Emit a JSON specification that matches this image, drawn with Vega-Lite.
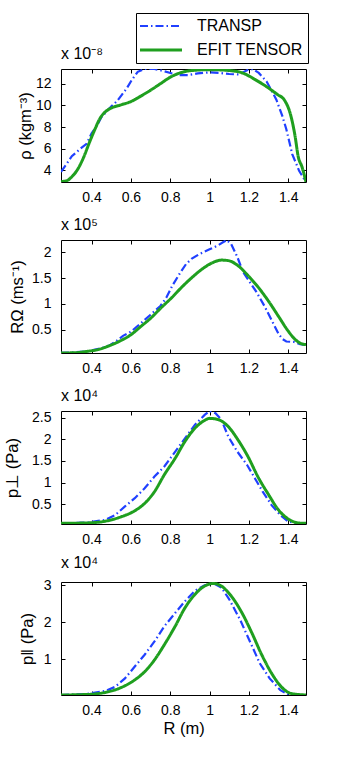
{
  "$schema": "https://vega.github.io/schema/vega-lite/v6.json",
  "bounds": "flush",
  "spacing": 58,
  "padding": {"left": 3, "top": 12, "right": 0, "bottom": 0},
  "background": "white",
  "config": {
    "font": "Liberation Sans",
    "view": {"stroke": "black", "strokeWidth": 1},
    "axis": {"grid": false, "domain": false, "tickColor": "black", "tickSize": -4, "labelFont": "Liberation Sans", "labelFontSize": 14, "labelColor": "black", "titleFont": "Liberation Sans", "titleFontSize": 16.5, "titleFontWeight": "normal", "titleColor": "black", "labelOverlap": false, "labelFlush": false},
    "axisX": {"labelPadding": 12, "titlePadding": 3},
    "axisY": {"labelPadding": 14},
    "title": {"anchor": "start", "frame": "group", "font": "Liberation Sans", "fontSize": 16, "fontWeight": "normal", "color": "black", "baseline": "alphabetic", "offset": 7},
    "legend": {"orient": "none", "legendX": 75, "legendY": -56, "strokeColor": "black", "fillColor": "white", "padding": 5, "labelFont": "Liberation Sans", "labelFontSize": 16, "labelColor": "black", "symbolType": "M-3,0H3", "symbolSize": 196, "symbolOffset": 12, "labelOffset": 28, "rowPadding": 8, "symbolStrokeWidth": 2.5}
  },
  "datasets": {
    "rho": [
      {"s": "TRANSP", "r": 0.245, "v": 3.85}, {"s": "TRANSP", "r": 0.27, "v": 4.5}, {"s": "TRANSP", "r": 0.30, "v": 5.3}, {"s": "TRANSP", "r": 0.35, "v": 6.1}, {"s": "TRANSP", "r": 0.375, "v": 6.45}, {"s": "TRANSP", "r": 0.40, "v": 7.4}, {"s": "TRANSP", "r": 0.43, "v": 8.2}, {"s": "TRANSP", "r": 0.45, "v": 8.9}, {"s": "TRANSP", "r": 0.50, "v": 9.9}, {"s": "TRANSP", "r": 0.53, "v": 10.4}, {"s": "TRANSP", "r": 0.555, "v": 11.0}, {"s": "TRANSP", "r": 0.58, "v": 11.6}, {"s": "TRANSP", "r": 0.605, "v": 12.35}, {"s": "TRANSP", "r": 0.635, "v": 13.1}, {"s": "TRANSP", "r": 0.67, "v": 13.36}, {"s": "TRANSP", "r": 0.72, "v": 13.36}, {"s": "TRANSP", "r": 0.76, "v": 13.2}, {"s": "TRANSP", "r": 0.81, "v": 12.95}, {"s": "TRANSP", "r": 0.85, "v": 12.8}, {"s": "TRANSP", "r": 0.89, "v": 12.8}, {"s": "TRANSP", "r": 0.94, "v": 12.95}, {"s": "TRANSP", "r": 1.0, "v": 13.05}, {"s": "TRANSP", "r": 1.05, "v": 13.0}, {"s": "TRANSP", "r": 1.10, "v": 12.9}, {"s": "TRANSP", "r": 1.15, "v": 12.85}, {"s": "TRANSP", "r": 1.19, "v": 13.25}, {"s": "TRANSP", "r": 1.22, "v": 13.36}, {"s": "TRANSP", "r": 1.25, "v": 13.0}, {"s": "TRANSP", "r": 1.29, "v": 12.2}, {"s": "TRANSP", "r": 1.32, "v": 11.2}, {"s": "TRANSP", "r": 1.34, "v": 10.5}, {"s": "TRANSP", "r": 1.37, "v": 9.0}, {"s": "TRANSP", "r": 1.39, "v": 7.8}, {"s": "TRANSP", "r": 1.42, "v": 5.5}, {"s": "TRANSP", "r": 1.455, "v": 3.95}, {"s": "TRANSP", "r": 1.49, "v": 2.92},
      {"s": "EFIT TENSOR", "r": 0.245, "v": 2.95}, {"s": "EFIT TENSOR", "r": 0.275, "v": 3.05}, {"s": "EFIT TENSOR", "r": 0.30, "v": 3.4}, {"s": "EFIT TENSOR", "r": 0.33, "v": 4.1}, {"s": "EFIT TENSOR", "r": 0.36, "v": 5.2}, {"s": "EFIT TENSOR", "r": 0.39, "v": 6.6}, {"s": "EFIT TENSOR", "r": 0.42, "v": 7.9}, {"s": "EFIT TENSOR", "r": 0.44, "v": 8.7}, {"s": "EFIT TENSOR", "r": 0.47, "v": 9.4}, {"s": "EFIT TENSOR", "r": 0.50, "v": 9.75}, {"s": "EFIT TENSOR", "r": 0.55, "v": 10.05}, {"s": "EFIT TENSOR", "r": 0.60, "v": 10.35}, {"s": "EFIT TENSOR", "r": 0.65, "v": 10.85}, {"s": "EFIT TENSOR", "r": 0.70, "v": 11.4}, {"s": "EFIT TENSOR", "r": 0.75, "v": 12.0}, {"s": "EFIT TENSOR", "r": 0.80, "v": 12.6}, {"s": "EFIT TENSOR", "r": 0.85, "v": 13.0}, {"s": "EFIT TENSOR", "r": 0.90, "v": 13.2}, {"s": "EFIT TENSOR", "r": 1.0, "v": 13.3}, {"s": "EFIT TENSOR", "r": 1.10, "v": 13.22}, {"s": "EFIT TENSOR", "r": 1.17, "v": 12.98}, {"s": "EFIT TENSOR", "r": 1.23, "v": 12.4}, {"s": "EFIT TENSOR", "r": 1.30, "v": 11.6}, {"s": "EFIT TENSOR", "r": 1.345, "v": 11.0}, {"s": "EFIT TENSOR", "r": 1.38, "v": 10.5}, {"s": "EFIT TENSOR", "r": 1.415, "v": 8.9}, {"s": "EFIT TENSOR", "r": 1.435, "v": 7.1}, {"s": "EFIT TENSOR", "r": 1.45, "v": 5.3}, {"s": "EFIT TENSOR", "r": 1.47, "v": 4.3}, {"s": "EFIT TENSOR", "r": 1.49, "v": 2.92}
    ],
    "rot": [
      {"s": "TRANSP", "r": 0.245, "v": 0.05}, {"s": "TRANSP", "r": 0.30, "v": 0.055}, {"s": "TRANSP", "r": 0.38, "v": 0.08}, {"s": "TRANSP", "r": 0.45, "v": 0.14}, {"s": "TRANSP", "r": 0.49, "v": 0.19}, {"s": "TRANSP", "r": 0.53, "v": 0.29}, {"s": "TRANSP", "r": 0.56, "v": 0.38}, {"s": "TRANSP", "r": 0.60, "v": 0.46}, {"s": "TRANSP", "r": 0.65, "v": 0.62}, {"s": "TRANSP", "r": 0.70, "v": 0.79}, {"s": "TRANSP", "r": 0.75, "v": 0.96}, {"s": "TRANSP", "r": 0.78, "v": 1.12}, {"s": "TRANSP", "r": 0.81, "v": 1.35}, {"s": "TRANSP", "r": 0.85, "v": 1.6}, {"s": "TRANSP", "r": 0.88, "v": 1.77}, {"s": "TRANSP", "r": 0.91, "v": 1.88}, {"s": "TRANSP", "r": 0.95, "v": 1.97}, {"s": "TRANSP", "r": 1.0, "v": 2.06}, {"s": "TRANSP", "r": 1.04, "v": 2.13}, {"s": "TRANSP", "r": 1.07, "v": 2.2}, {"s": "TRANSP", "r": 1.088, "v": 2.24}, {"s": "TRANSP", "r": 1.11, "v": 2.16}, {"s": "TRANSP", "r": 1.14, "v": 1.92}, {"s": "TRANSP", "r": 1.17, "v": 1.62}, {"s": "TRANSP", "r": 1.20, "v": 1.45}, {"s": "TRANSP", "r": 1.24, "v": 1.22}, {"s": "TRANSP", "r": 1.28, "v": 0.95}, {"s": "TRANSP", "r": 1.32, "v": 0.65}, {"s": "TRANSP", "r": 1.35, "v": 0.42}, {"s": "TRANSP", "r": 1.37, "v": 0.32}, {"s": "TRANSP", "r": 1.39, "v": 0.27}, {"s": "TRANSP", "r": 1.43, "v": 0.26}, {"s": "TRANSP", "r": 1.46, "v": 0.22}, {"s": "TRANSP", "r": 1.49, "v": 0.2},
      {"s": "EFIT TENSOR", "r": 0.245, "v": 0.047}, {"s": "EFIT TENSOR", "r": 0.32, "v": 0.053}, {"s": "EFIT TENSOR", "r": 0.38, "v": 0.08}, {"s": "EFIT TENSOR", "r": 0.43, "v": 0.11}, {"s": "EFIT TENSOR", "r": 0.485, "v": 0.18}, {"s": "EFIT TENSOR", "r": 0.55, "v": 0.29}, {"s": "EFIT TENSOR", "r": 0.60, "v": 0.40}, {"s": "EFIT TENSOR", "r": 0.65, "v": 0.56}, {"s": "EFIT TENSOR", "r": 0.70, "v": 0.72}, {"s": "EFIT TENSOR", "r": 0.755, "v": 0.93}, {"s": "EFIT TENSOR", "r": 0.81, "v": 1.13}, {"s": "EFIT TENSOR", "r": 0.86, "v": 1.33}, {"s": "EFIT TENSOR", "r": 0.91, "v": 1.51}, {"s": "EFIT TENSOR", "r": 0.96, "v": 1.67}, {"s": "EFIT TENSOR", "r": 1.01, "v": 1.79}, {"s": "EFIT TENSOR", "r": 1.06, "v": 1.85}, {"s": "EFIT TENSOR", "r": 1.095, "v": 1.84}, {"s": "EFIT TENSOR", "r": 1.145, "v": 1.74}, {"s": "EFIT TENSOR", "r": 1.20, "v": 1.53}, {"s": "EFIT TENSOR", "r": 1.25, "v": 1.31}, {"s": "EFIT TENSOR", "r": 1.30, "v": 1.05}, {"s": "EFIT TENSOR", "r": 1.35, "v": 0.76}, {"s": "EFIT TENSOR", "r": 1.40, "v": 0.47}, {"s": "EFIT TENSOR", "r": 1.435, "v": 0.31}, {"s": "EFIT TENSOR", "r": 1.465, "v": 0.23}, {"s": "EFIT TENSOR", "r": 1.49, "v": 0.21}
    ],
    "pperp": [
      {"s": "TRANSP", "r": 0.245, "v": 0.055}, {"s": "TRANSP", "r": 0.38, "v": 0.08}, {"s": "TRANSP", "r": 0.47, "v": 0.14}, {"s": "TRANSP", "r": 0.52, "v": 0.25}, {"s": "TRANSP", "r": 0.57, "v": 0.45}, {"s": "TRANSP", "r": 0.62, "v": 0.64}, {"s": "TRANSP", "r": 0.67, "v": 0.87}, {"s": "TRANSP", "r": 0.72, "v": 1.14}, {"s": "TRANSP", "r": 0.77, "v": 1.37}, {"s": "TRANSP", "r": 0.82, "v": 1.68}, {"s": "TRANSP", "r": 0.875, "v": 2.02}, {"s": "TRANSP", "r": 0.925, "v": 2.33}, {"s": "TRANSP", "r": 0.975, "v": 2.56}, {"s": "TRANSP", "r": 1.0, "v": 2.65}, {"s": "TRANSP", "r": 1.03, "v": 2.6}, {"s": "TRANSP", "r": 1.06, "v": 2.45}, {"s": "TRANSP", "r": 1.095, "v": 2.06}, {"s": "TRANSP", "r": 1.14, "v": 1.72}, {"s": "TRANSP", "r": 1.19, "v": 1.41}, {"s": "TRANSP", "r": 1.23, "v": 1.1}, {"s": "TRANSP", "r": 1.27, "v": 0.79}, {"s": "TRANSP", "r": 1.315, "v": 0.48}, {"s": "TRANSP", "r": 1.36, "v": 0.25}, {"s": "TRANSP", "r": 1.40, "v": 0.1}, {"s": "TRANSP", "r": 1.45, "v": 0.055}, {"s": "TRANSP", "r": 1.49, "v": 0.05},
      {"s": "EFIT TENSOR", "r": 0.245, "v": 0.06}, {"s": "EFIT TENSOR", "r": 0.38, "v": 0.07}, {"s": "EFIT TENSOR", "r": 0.47, "v": 0.11}, {"s": "EFIT TENSOR", "r": 0.55, "v": 0.21}, {"s": "EFIT TENSOR", "r": 0.62, "v": 0.35}, {"s": "EFIT TENSOR", "r": 0.67, "v": 0.52}, {"s": "EFIT TENSOR", "r": 0.72, "v": 0.79}, {"s": "EFIT TENSOR", "r": 0.77, "v": 1.18}, {"s": "EFIT TENSOR", "r": 0.825, "v": 1.56}, {"s": "EFIT TENSOR", "r": 0.875, "v": 1.95}, {"s": "EFIT TENSOR", "r": 0.925, "v": 2.25}, {"s": "EFIT TENSOR", "r": 0.97, "v": 2.42}, {"s": "EFIT TENSOR", "r": 1.0, "v": 2.48}, {"s": "EFIT TENSOR", "r": 1.045, "v": 2.45}, {"s": "EFIT TENSOR", "r": 1.095, "v": 2.29}, {"s": "EFIT TENSOR", "r": 1.145, "v": 1.98}, {"s": "EFIT TENSOR", "r": 1.195, "v": 1.6}, {"s": "EFIT TENSOR", "r": 1.245, "v": 1.14}, {"s": "EFIT TENSOR", "r": 1.30, "v": 0.72}, {"s": "EFIT TENSOR", "r": 1.35, "v": 0.37}, {"s": "EFIT TENSOR", "r": 1.40, "v": 0.16}, {"s": "EFIT TENSOR", "r": 1.45, "v": 0.07}, {"s": "EFIT TENSOR", "r": 1.49, "v": 0.06}
    ],
    "ppar": [
      {"s": "TRANSP", "r": 0.245, "v": 0.03}, {"s": "TRANSP", "r": 0.38, "v": 0.06}, {"s": "TRANSP", "r": 0.47, "v": 0.14}, {"s": "TRANSP", "r": 0.52, "v": 0.25}, {"s": "TRANSP", "r": 0.57, "v": 0.48}, {"s": "TRANSP", "r": 0.62, "v": 0.8}, {"s": "TRANSP", "r": 0.67, "v": 1.12}, {"s": "TRANSP", "r": 0.72, "v": 1.48}, {"s": "TRANSP", "r": 0.77, "v": 1.89}, {"s": "TRANSP", "r": 0.825, "v": 2.25}, {"s": "TRANSP", "r": 0.875, "v": 2.57}, {"s": "TRANSP", "r": 0.925, "v": 2.85}, {"s": "TRANSP", "r": 0.975, "v": 3.0}, {"s": "TRANSP", "r": 1.02, "v": 3.05}, {"s": "TRANSP", "r": 1.06, "v": 2.94}, {"s": "TRANSP", "r": 1.10, "v": 2.62}, {"s": "TRANSP", "r": 1.155, "v": 2.07}, {"s": "TRANSP", "r": 1.205, "v": 1.48}, {"s": "TRANSP", "r": 1.255, "v": 0.89}, {"s": "TRANSP", "r": 1.305, "v": 0.48}, {"s": "TRANSP", "r": 1.36, "v": 0.16}, {"s": "TRANSP", "r": 1.40, "v": 0.04}, {"s": "TRANSP", "r": 1.45, "v": 0.03}, {"s": "TRANSP", "r": 1.49, "v": 0.03},
      {"s": "EFIT TENSOR", "r": 0.245, "v": 0.03}, {"s": "EFIT TENSOR", "r": 0.38, "v": 0.045}, {"s": "EFIT TENSOR", "r": 0.47, "v": 0.1}, {"s": "EFIT TENSOR", "r": 0.55, "v": 0.23}, {"s": "EFIT TENSOR", "r": 0.62, "v": 0.44}, {"s": "EFIT TENSOR", "r": 0.67, "v": 0.66}, {"s": "EFIT TENSOR", "r": 0.72, "v": 0.98}, {"s": "EFIT TENSOR", "r": 0.77, "v": 1.39}, {"s": "EFIT TENSOR", "r": 0.825, "v": 1.89}, {"s": "EFIT TENSOR", "r": 0.875, "v": 2.39}, {"s": "EFIT TENSOR", "r": 0.925, "v": 2.75}, {"s": "EFIT TENSOR", "r": 0.975, "v": 2.98}, {"s": "EFIT TENSOR", "r": 1.02, "v": 3.05}, {"s": "EFIT TENSOR", "r": 1.06, "v": 2.98}, {"s": "EFIT TENSOR", "r": 1.11, "v": 2.71}, {"s": "EFIT TENSOR", "r": 1.165, "v": 2.25}, {"s": "EFIT TENSOR", "r": 1.215, "v": 1.71}, {"s": "EFIT TENSOR", "r": 1.265, "v": 1.12}, {"s": "EFIT TENSOR", "r": 1.315, "v": 0.62}, {"s": "EFIT TENSOR", "r": 1.365, "v": 0.25}, {"s": "EFIT TENSOR", "r": 1.415, "v": 0.07}, {"s": "EFIT TENSOR", "r": 1.49, "v": 0.03}
    ]
  },
  "resolve": {"scale": {"color": "shared", "strokeDash": "shared"}, "legend": {"color": "shared", "strokeDash": "shared"}},
  "vconcat": [
    {
      "width": 245, "height": 113,
      "title": {"text": "x 10⁻⁸"},
      "data": {"name": "rho"},
      "resolve": {"axis": {"x": "independent", "y": "independent"}},
      "layer": [
        {
          "transform": [{"filter": "datum.s == 'TRANSP'"}],
          "mark": {"type": "line", "strokeWidth": 2.2, "clip": true},
          "encoding": {
            "x": {"field": "r", "type": "quantitative", "scale": {"domain": [0.245, 1.49], "nice": false, "zero": false}, "axis": {"orient": "bottom", "values": [0.4, 0.6, 0.8, 1, 1.2, 1.4], "format": "~g", "title": null}},
            "y": {"field": "v", "type": "quantitative", "scale": {"domain": [2.92, 13.36], "nice": false, "zero": false}, "axis": {"orient": "left", "values": [4, 6, 8, 10, 12], "format": "~g", "title": "ρ (kgm⁻³)", "titleX": -28}},
            "color": {"field": "s", "type": "nominal", "title": null, "scale": {"domain": ["TRANSP", "EFIT TENSOR"], "range": ["#2040ff", "#1f9f1f"]}, "legend": {"encode": {"symbols": {"update": {"strokeWidth": {"signal": "datum.value === 'TRANSP' ? 2.2 : 3"}}}}}},
            "strokeDash": {"field": "s", "type": "nominal", "title": null, "scale": {"domain": ["TRANSP", "EFIT TENSOR"], "range": [[8, 3, 1.5, 3], [1, 0]]}}
          }
        },
        {
          "transform": [{"filter": "datum.s == 'EFIT TENSOR'"}],
          "mark": {"type": "line", "strokeWidth": 3, "interpolate": "monotone", "clip": true},
          "encoding": {
            "x": {"field": "r", "type": "quantitative", "scale": {"domain": [0.245, 1.49], "nice": false, "zero": false}, "axis": {"orient": "top", "values": [0.4, 0.6, 0.8, 1, 1.2, 1.4], "labels": false, "title": null}},
            "y": {"field": "v", "type": "quantitative", "scale": {"domain": [2.92, 13.36], "nice": false, "zero": false}, "axis": {"orient": "right", "values": [4, 6, 8, 10, 12], "labels": false, "title": null}},
            "color": {"field": "s", "type": "nominal", "title": null, "scale": {"domain": ["TRANSP", "EFIT TENSOR"], "range": ["#2040ff", "#1f9f1f"]}},
            "strokeDash": {"field": "s", "type": "nominal", "title": null, "scale": {"domain": ["TRANSP", "EFIT TENSOR"], "range": [[8, 3, 1.5, 3], [1, 0]]}}
          }
        }
      ]
    },
    {
      "width": 245, "height": 113,
      "title": {"text": "x 10⁵"},
      "data": {"name": "rot"},
      "resolve": {"axis": {"x": "independent", "y": "independent"}},
      "layer": [
        {
          "transform": [{"filter": "datum.s == 'TRANSP'"}],
          "mark": {"type": "line", "strokeWidth": 2.2, "clip": true},
          "encoding": {
            "x": {"field": "r", "type": "quantitative", "scale": {"domain": [0.245, 1.49], "nice": false, "zero": false}, "axis": {"orient": "bottom", "values": [0.4, 0.6, 0.8, 1, 1.2, 1.4], "format": "~g", "title": null}},
            "y": {"field": "v", "type": "quantitative", "scale": {"domain": [0.047, 2.24], "nice": false, "zero": false}, "axis": {"orient": "left", "values": [0.5, 1, 1.5, 2], "format": "~g", "title": "RΩ (ms⁻¹)", "titleX": -36}},
            "color": {"field": "s", "type": "nominal", "title": null, "scale": {"domain": ["TRANSP", "EFIT TENSOR"], "range": ["#2040ff", "#1f9f1f"]}},
            "strokeDash": {"field": "s", "type": "nominal", "title": null, "scale": {"domain": ["TRANSP", "EFIT TENSOR"], "range": [[8, 3, 1.5, 3], [1, 0]]}}
          }
        },
        {
          "transform": [{"filter": "datum.s == 'EFIT TENSOR'"}],
          "mark": {"type": "line", "strokeWidth": 3, "interpolate": "monotone", "clip": true},
          "encoding": {
            "x": {"field": "r", "type": "quantitative", "scale": {"domain": [0.245, 1.49], "nice": false, "zero": false}, "axis": {"orient": "top", "values": [0.4, 0.6, 0.8, 1, 1.2, 1.4], "labels": false, "title": null}},
            "y": {"field": "v", "type": "quantitative", "scale": {"domain": [0.047, 2.24], "nice": false, "zero": false}, "axis": {"orient": "right", "values": [0.5, 1, 1.5, 2], "labels": false, "title": null}},
            "color": {"field": "s", "type": "nominal", "title": null, "scale": {"domain": ["TRANSP", "EFIT TENSOR"], "range": ["#2040ff", "#1f9f1f"]}},
            "strokeDash": {"field": "s", "type": "nominal", "title": null, "scale": {"domain": ["TRANSP", "EFIT TENSOR"], "range": [[8, 3, 1.5, 3], [1, 0]]}}
          }
        }
      ]
    },
    {
      "width": 245, "height": 113,
      "title": {"text": "x 10⁴"},
      "data": {"name": "pperp"},
      "resolve": {"axis": {"x": "independent", "y": "independent"}},
      "layer": [
        {
          "transform": [{"filter": "datum.s == 'TRANSP'"}],
          "mark": {"type": "line", "strokeWidth": 2.2, "clip": true},
          "encoding": {
            "x": {"field": "r", "type": "quantitative", "scale": {"domain": [0.245, 1.49], "nice": false, "zero": false}, "axis": {"orient": "bottom", "values": [0.4, 0.6, 0.8, 1, 1.2, 1.4], "format": "~g", "title": null}},
            "y": {"field": "v", "type": "quantitative", "scale": {"domain": [0.045, 2.65], "nice": false, "zero": false}, "axis": {"orient": "left", "values": [0.5, 1, 1.5, 2, 2.5], "format": "~g", "title": "p⊥ (Pa)", "titleX": -41}},
            "color": {"field": "s", "type": "nominal", "title": null, "scale": {"domain": ["TRANSP", "EFIT TENSOR"], "range": ["#2040ff", "#1f9f1f"]}},
            "strokeDash": {"field": "s", "type": "nominal", "title": null, "scale": {"domain": ["TRANSP", "EFIT TENSOR"], "range": [[8, 3, 1.5, 3], [1, 0]]}}
          }
        },
        {
          "transform": [{"filter": "datum.s == 'EFIT TENSOR'"}],
          "mark": {"type": "line", "strokeWidth": 3, "interpolate": "monotone", "clip": true},
          "encoding": {
            "x": {"field": "r", "type": "quantitative", "scale": {"domain": [0.245, 1.49], "nice": false, "zero": false}, "axis": {"orient": "top", "values": [0.4, 0.6, 0.8, 1, 1.2, 1.4], "labels": false, "title": null}},
            "y": {"field": "v", "type": "quantitative", "scale": {"domain": [0.045, 2.65], "nice": false, "zero": false}, "axis": {"orient": "right", "values": [0.5, 1, 1.5, 2, 2.5], "labels": false, "title": null}},
            "color": {"field": "s", "type": "nominal", "title": null, "scale": {"domain": ["TRANSP", "EFIT TENSOR"], "range": ["#2040ff", "#1f9f1f"]}},
            "strokeDash": {"field": "s", "type": "nominal", "title": null, "scale": {"domain": ["TRANSP", "EFIT TENSOR"], "range": [[8, 3, 1.5, 3], [1, 0]]}}
          }
        }
      ]
    },
    {
      "width": 245, "height": 113,
      "title": {"text": "x 10⁴"},
      "data": {"name": "ppar"},
      "resolve": {"axis": {"x": "independent", "y": "independent"}},
      "layer": [
        {
          "transform": [{"filter": "datum.s == 'TRANSP'"}],
          "mark": {"type": "line", "strokeWidth": 2.2, "clip": true},
          "encoding": {
            "x": {"field": "r", "type": "quantitative", "scale": {"domain": [0.245, 1.49], "nice": false, "zero": false}, "axis": {"orient": "bottom", "values": [0.4, 0.6, 0.8, 1, 1.2, 1.4], "format": "~g", "title": "R (m)"}},
            "y": {"field": "v", "type": "quantitative", "scale": {"domain": [0.03, 3.09], "nice": false, "zero": false}, "axis": {"orient": "left", "values": [1, 2, 3], "format": "~g", "title": "p‖ (Pa)", "titleX": -26}},
            "color": {"field": "s", "type": "nominal", "title": null, "scale": {"domain": ["TRANSP", "EFIT TENSOR"], "range": ["#2040ff", "#1f9f1f"]}},
            "strokeDash": {"field": "s", "type": "nominal", "title": null, "scale": {"domain": ["TRANSP", "EFIT TENSOR"], "range": [[8, 3, 1.5, 3], [1, 0]]}}
          }
        },
        {
          "transform": [{"filter": "datum.s == 'EFIT TENSOR'"}],
          "mark": {"type": "line", "strokeWidth": 3, "interpolate": "monotone", "clip": true},
          "encoding": {
            "x": {"field": "r", "type": "quantitative", "scale": {"domain": [0.245, 1.49], "nice": false, "zero": false}, "axis": {"orient": "top", "values": [0.4, 0.6, 0.8, 1, 1.2, 1.4], "labels": false, "title": null}},
            "y": {"field": "v", "type": "quantitative", "scale": {"domain": [0.03, 3.09], "nice": false, "zero": false}, "axis": {"orient": "right", "values": [1, 2, 3], "labels": false, "title": null}},
            "color": {"field": "s", "type": "nominal", "title": null, "scale": {"domain": ["TRANSP", "EFIT TENSOR"], "range": ["#2040ff", "#1f9f1f"]}},
            "strokeDash": {"field": "s", "type": "nominal", "title": null, "scale": {"domain": ["TRANSP", "EFIT TENSOR"], "range": [[8, 3, 1.5, 3], [1, 0]]}}
          }
        }
      ]
    }
  ]
}
